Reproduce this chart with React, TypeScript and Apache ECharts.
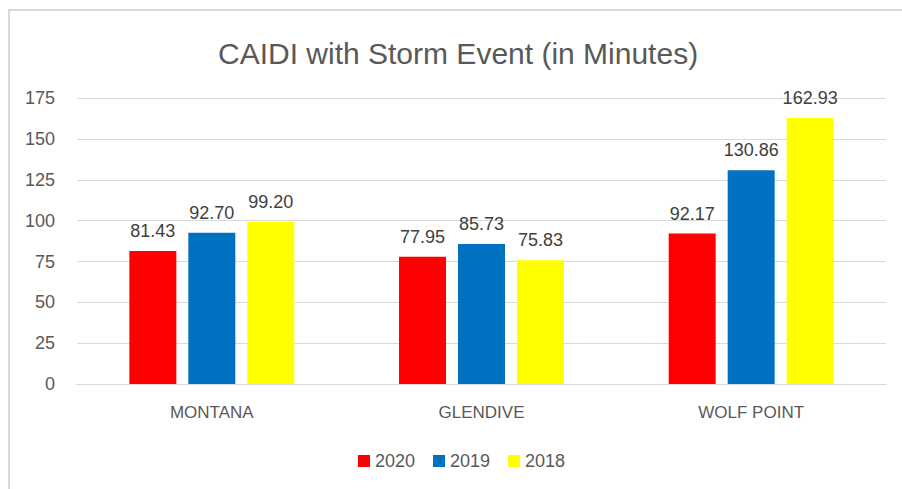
import React, { useEffect, useRef } from "react";
import * as echarts from "echarts";

const categories = ["MONTANA", "GLENDIVE", "WOLF POINT"];
const seriesNames = ["2020", "2019", "2018"];
const values2020 = [81.43, 77.95, 92.17];
const values2019 = [92.7, 85.73, 130.86];
const values2018 = [99.2, 75.83, 162.93];
const seriesColors = ["#FF0000", "#0070C0", "#FFFF00"];

const FONT = "Liberation Sans";

export default function App() {
  const ref = useRef<HTMLDivElement>(null);
  useEffect(() => {
    if (!ref.current) return;
    const chart = echarts.init(ref.current, undefined, { renderer: "svg" });
    const data = [values2020, values2019, values2018];
    chart.setOption({
      animation: false,
      backgroundColor: "#ffffff",
      title: {
        text: "CAIDI with Storm Event (in Minutes)",
        left: 213,
        top: 33,
        textStyle: { fontFamily: FONT, fontSize: 30, fontWeight: "normal", color: "#595959" },
      },
      legend: {
        data: seriesNames,
        left: 353,
        top: 447,
        itemWidth: 12,
        itemHeight: 12,
        itemGap: 18,
        icon: "rect",
        textStyle: { fontFamily: FONT, fontSize: 18, color: "#595959" },
      },
      grid: { left: 77, right: 16, top: 98.3, bottom: 105, containLabel: false },
      xAxis: {
        type: "category",
        data: categories,
        axisLine: { lineStyle: { color: "#d9d9d9", width: 1 } },
        axisTick: { show: false },
        axisLabel: { fontFamily: FONT, fontSize: 17, color: "#595959", margin: 20 },
      },
      yAxis: {
        type: "value",
        min: 0,
        max: 175,
        interval: 25,
        axisLine: { show: false },
        axisTick: { show: false },
        splitLine: { lineStyle: { color: "#d9d9d9", width: 1 } },
        axisLabel: { fontFamily: FONT, fontSize: 18, color: "#595959", margin: 22 },
      },
      series: seriesNames.map((name, i) => ({
        name,
        type: "bar",
        data: data[i],
        barWidth: 47,
        barGap: "25.5%",
        itemStyle: { color: seriesColors[i] },
        label: {
          show: true,
          position: "top",
          distance: 11,
          fontFamily: FONT,
          fontSize: 18,
          color: "#404040",
          formatter: (p: any) => Number(p.value).toFixed(2),
        },
      })),
      graphic: [
        {
          type: "polyline",
          shape: { points: [[9, 489], [9, 10], [902, 10]] },
          style: { stroke: "#d9d9d9", lineWidth: 2, fill: "none" },
          silent: true,
        },
      ],
    });
    return () => chart.dispose();
  }, []);
  return (
    <div
      ref={ref}
      style={{ position: "absolute", left: 0, top: 0, width: 902, height: 489 }}
    />
  );
}
